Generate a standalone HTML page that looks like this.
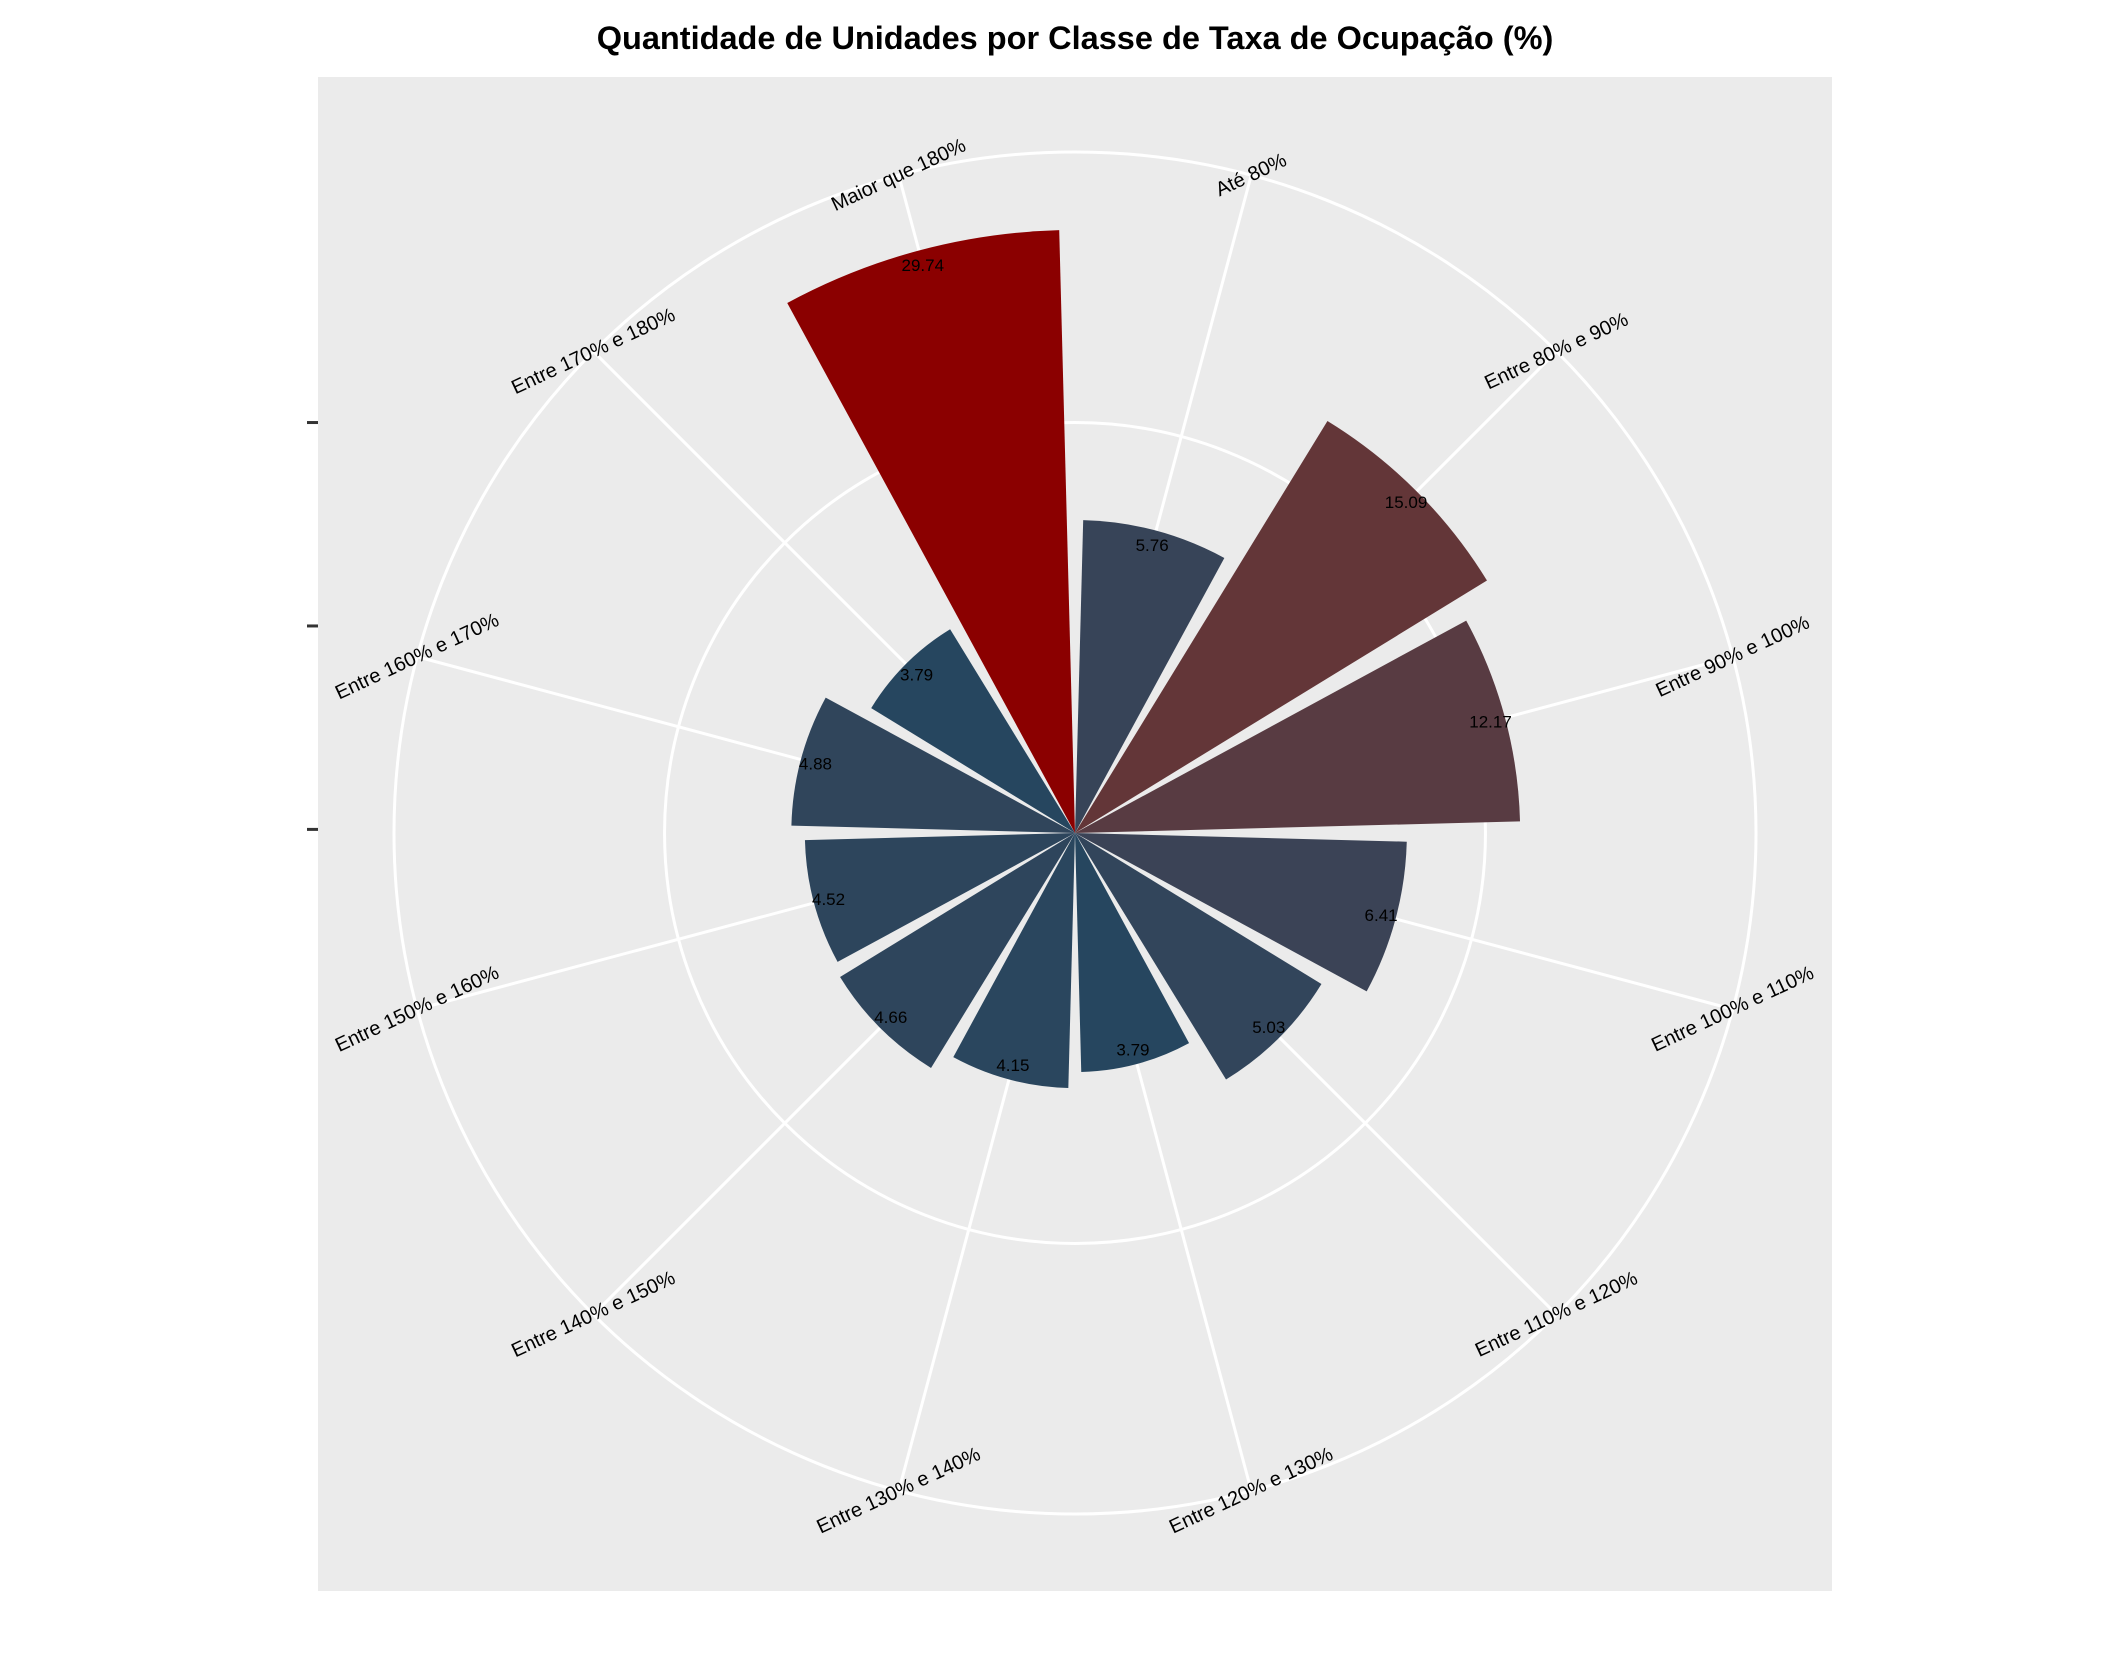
<!DOCTYPE html>
<html><head><meta charset="utf-8"><style>
html,body{margin:0;padding:0;background:#fff;}
svg{display:block;font-family:"Liberation Sans",Arial,sans-serif;}
</style></head><body>
<svg id="chart" width="2125" height="1653" viewBox="0 0 2125 1653" xmlns="http://www.w3.org/2000/svg">
<text x="1075" y="49" text-anchor="middle" font-size="32.5" font-weight="bold" fill="#000">Quantidade de Unidades por Classe de Taxa de Ocupação (%)</text>
<rect x="318" y="77" width="1514" height="1514" fill="#EBEBEB"/>
<g id="grid"></g>
<g id="bars"></g>
<g id="vlabels"></g>
<g id="clabels"></g>
<g id="ticks"></g>
</svg>
<script>
const categories = ["Até 80%","Entre 80% e 90%","Entre 90% e 100%","Entre 100% e 110%","Entre 110% e 120%","Entre 120% e 130%","Entre 130% e 140%","Entre 140% e 150%","Entre 150% e 160%","Entre 160% e 170%","Entre 170% e 180%","Maior que 180%"];
const values = [5.76,15.09,12.17,6.41,5.03,3.79,4.15,4.66,4.52,4.88,3.79,29.74];
const valueLabels = ["5.76","15.09","12.17","6.41","5.03","3.79","4.15","4.66","4.52","4.88","3.79","29.74"];
const radialTicks = [1, 3.1623, 10];
const gridValues = [10];

const NS = "http://www.w3.org/2000/svg";
const cx = 1075, cy = 833, K = 176.7, R0 = 3.6, OUTER = 681;
function rScale(v){ return K*Math.log(v) + R0; }
const n = categories.length, step = 2*Math.PI/n;
function ang(i){ return (i+0.5)*step; }
function pt(a,r){ return [cx + r*Math.sin(a), cy - r*Math.cos(a)]; }
function mk(tag, attrs, parent){ const e=document.createElementNS(NS,tag); for(const k in attrs) e.setAttribute(k,attrs[k]); parent.appendChild(e); return e; }

function hex2rgb(h){ return [1,3,5].map(i=>parseInt(h.substr(i,2),16)); }
function lin(c){ c/=255; return c<=0.04045?c/12.92:Math.pow((c+0.055)/1.055,2.4); }
function gam(c){ c = c<=0.0031308?12.92*c:1.055*Math.pow(c,1/2.4)-0.055; return Math.max(0,Math.min(255,Math.round(c*255))); }
function rgb2lab(rgb){ const [r,g,b]=rgb.map(lin);
  let x=(0.4124*r+0.3576*g+0.1805*b)/0.95047, y=(0.2126*r+0.7152*g+0.0722*b), z=(0.0193*r+0.1192*g+0.9505*b)/1.08883;
  const f=t=>t>0.008856?Math.cbrt(t):7.787*t+16/116; x=f(x);y=f(y);z=f(z);
  return [116*y-16, 500*(x-y), 200*(y-z)]; }
function lab2rgb(l){ let y=(l[0]+16)/116, x=l[1]/500+y, z=y-l[2]/200;
  const fi=t=>t*t*t>0.008856?t*t*t:(t-16/116)/7.787; x=fi(x)*0.95047; y=fi(y); z=fi(z)*1.08883;
  const r=3.2406*x-1.5372*y-0.4986*z, g=-0.9689*x+1.8758*y+0.0415*z, b=0.0557*x-0.2040*y+1.0570*z;
  return [gam(r),gam(g),gam(b)]; }
const lowLab = rgb2lab(hex2rgb("#26465f")), highLab = rgb2lab(hex2rgb("#8b0000"));
const vmin = Math.min(...values), vmax = Math.max(...values);
function colorFor(v){ const f=(v-vmin)/(vmax-vmin);
  const l=lowLab.map((c,i)=>c+(highLab[i]-c)*f); const c=lab2rgb(l); return "rgb("+c.join(",")+")"; }

const grid = document.getElementById("grid");
gridValues.forEach(gv=>{
  const c = mk("circle",{cx:cx,cy:cy,r:rScale(gv),fill:"none",stroke:"#fff","stroke-width":3},grid);
  
  
});
const oc = mk("circle",{cx:cx,cy:cy,r:OUTER,fill:"none",stroke:"#fff","stroke-width":3},grid);


categories.forEach((c,i)=>{
  const p = pt(ang(i),OUTER);
  const l = mk("line",{x1:cx,y1:cy,x2:p[0],y2:p[1],stroke:"#fff","stroke-width":3},grid);
  
  
});

const bars = document.getElementById("bars");
const vl = document.getElementById("vlabels");
const cl = document.getElementById("clabels");
const half = step*0.45;
values.forEach((v,i)=>{
  const a0 = ang(i)-half, a1 = ang(i)+half, r = rScale(v);
  const p0 = pt(a0,r), p1 = pt(a1,r);
  const d = "M"+cx+","+cy+" L"+p0[0]+","+p0[1]+" A"+r+","+r+" 0 0 1 "+p1[0]+","+p1[1]+" Z";
  const b = mk("path",{d:d,fill:colorFor(v)},bars);
  
  
  const lp = pt(ang(i), r-15);
  const t = mk("text",{x:lp[0],y:lp[1]+6,"text-anchor":"middle","font-size":17,fill:"#000"},vl);
  t.textContent = valueLabels[i];
  
  
});
categories.forEach((c,i)=>{
  const p = pt(ang(i), OUTER);
  const t = mk("text",{x:p[0],y:p[1],"text-anchor":"middle","dominant-baseline":"central","font-size":20,fill:"#000",transform:"rotate(-25 "+p[0]+" "+p[1]+")"},cl);
  t.textContent = c;
  
  
});

const ticks = document.getElementById("ticks");
radialTicks.forEach(tv=>{
  const y = cy - rScale(tv);
  const l = mk("line",{x1:307,y1:y,x2:318,y2:y,stroke:"#333","stroke-width":3},ticks);
  
  
});
</script>
</body></html>
